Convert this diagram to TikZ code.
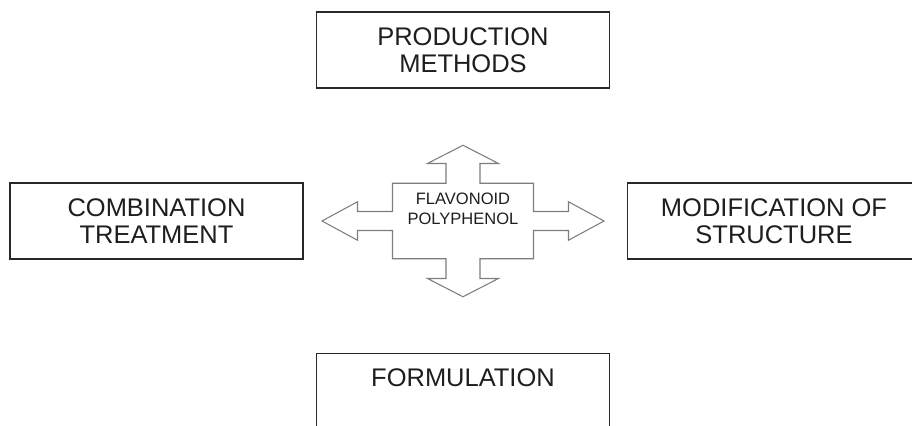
\documentclass[tikz,border=0pt]{standalone}
\usepackage{fontspec}
\setmainfont{Liberation Sans}
\usepackage{tikz}
\usepackage{xcolor}
\definecolor{boxline}{RGB}{40,40,40}
\definecolor{crossline}{RGB}{125,125,125}
\definecolor{textgrey}{RGB}{30,30,30}

\begin{document}
\begin{tikzpicture}[
    topic/.style={
        draw=boxline,
        line width=0.8pt,
        fill=white,
        align=center,
        text=textgrey,
        font=\fontsize{14.5}{15.5}\selectfont,
        minimum width=5.86cm,
        minimum height=1.52cm,
        inner sep=0pt
    },
    core/.style={
        align=center,
        text=textgrey,
        font=\fontsize{9.4}{11.4}\selectfont,
        inner sep=0pt
    },
    crossarrow/.style={draw=crossline, line width=0.6pt, line join=miter}
]

% PAGE
\useasboundingbox (-9.26,-4.10) rectangle (8.98,4.42);
\clip (-9.26,-4.10) rectangle (8.98,4.42);

% CROSS
\draw[crossarrow] (0,1.515) -- (-0.71,1.15) -- (-0.34,1.15) -- (-0.34,0.755)
    -- (-1.41,0.755) -- (-1.41,0.19) -- (-2.11,0.19) -- (-2.11,0.385)
    -- (-2.82,0) -- (-2.11,-0.385) -- (-2.11,-0.19) -- (-1.41,-0.19)
    -- (-1.41,-0.755) -- (-0.34,-0.755) -- (-0.34,-1.15) -- (-0.71,-1.15)
    -- (0,-1.515) -- (0.71,-1.15) -- (0.34,-1.15) -- (0.34,-0.755)
    -- (1.41,-0.755) -- (1.41,-0.19) -- (2.11,-0.19) -- (2.11,-0.385)
    -- (2.82,0) -- (2.11,0.385) -- (2.11,0.19) -- (1.41,0.19)
    -- (1.41,0.755) -- (0.34,0.755) -- (0.34,1.15) -- (0.71,1.15) -- cycle;

\node[core] (flavonoid) at (0,0.24) {FLAVONOID\\POLYPHENOL};

% BOXES
\node[topic] (production)  at (0,3.42)     {PRODUCTION\\METHODS};
\node[topic] (combination) at (-6.13,0)    {COMBINATION\\TREATMENT};
\node[topic] (modification) at (6.22,0)    {MODIFICATION OF\\STRUCTURE};
\node[topic] (formulation) at (0,-3.41)    {FORMULATION\\\mbox{}};

\end{tikzpicture}
\end{document}
